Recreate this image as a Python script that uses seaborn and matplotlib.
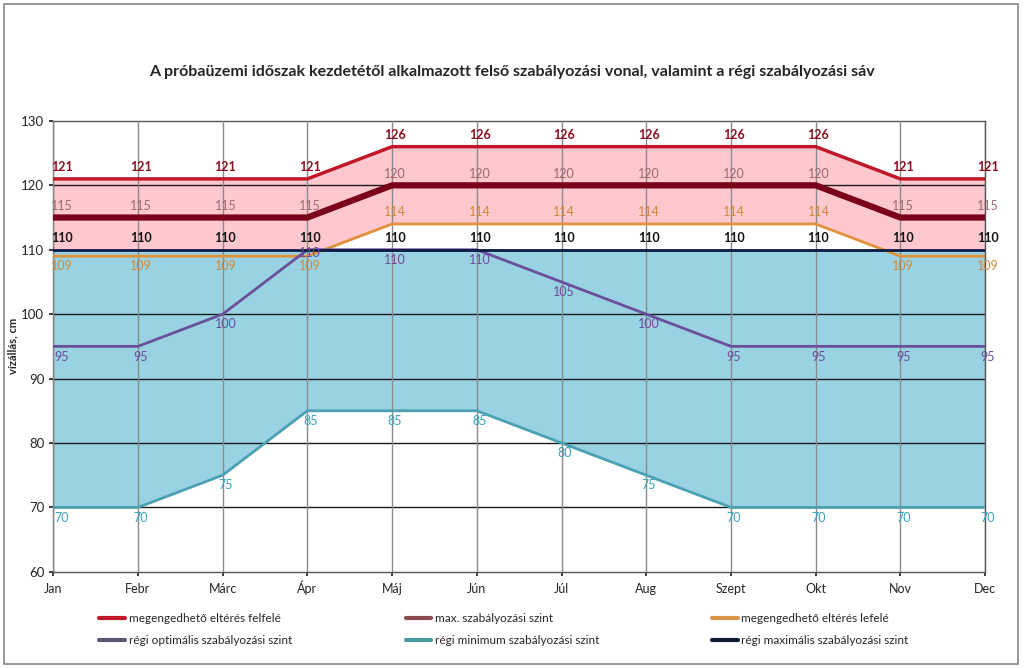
import matplotlib
matplotlib.use("Agg")
import matplotlib.pyplot as plt
import seaborn as sns
import numpy as np
import pandas as pd
from matplotlib.lines import Line2D

months = ["Jan", "Febr", "Márc", "Ápr", "Máj", "Jún", "Júl", "Aug", "Szept", "Okt", "Nov", "Dec"]
upper_dev = [121, 121, 121, 121, 126, 126, 126, 126, 126, 126, 121, 121]
max_level = [115, 115, 115, 115, 120, 120, 120, 120, 120, 120, 115, 115]
lower_dev = [109, 109, 109, 109, 114, 114, 114, 114, 114, 114, 109, 109]
old_opt = [95, 95, 100, 110, 110, 110, 105, 100, 95, 95, 95, 95]
old_min = [70, 70, 75, 85, 85, 85, 80, 75, 70, 70, 70, 70]
old_max = [110] * 12

names = ["megengedhető eltérés felfelé", "max. szabályozási szint", "megengedhető eltérés lefelé",
         "régi optimális szabályozási szint", "régi minimum szabályozási szint", "régi maximális szabályozási szint"]

sns.set_theme(style="white")
plt.rcParams['font.family'] = ['Lato', 'DejaVu Sans']

fig = plt.figure(figsize=(10.24, 6.68), dpi=100)
ax = fig.add_axes([0.052, 0.144, 0.910, 0.675])

x = np.arange(len(months))
ax.fill_between(x, upper_dev, lower_dev, color="#FFC8CE", lw=0, zorder=1)
ax.fill_between(x, old_max, old_min, color="#99D3E3", lw=0, zorder=2)

for yv in [70, 80, 90, 100, 110, 120]:
    ax.axhline(yv, color="#1a1a1a", lw=1.0, zorder=3)
for xv in x:
    ax.axvline(xv, color="#8a8a8a", lw=1.0, zorder=3)

# (values, line colour, width, label colour, label placement)
series = [
    (upper_dev, "#C0182A", 2.5, "#8B1020", "above"),
    (max_level, "#7A0019", 4.5, "#9A6A72", "above"),
    (lower_dev, "#E0913A", 2.0, "#D0893A", "mixed"),
    (old_opt, "#6B4F9A", 2.0, "#6A4C9C", "below"),
    (old_min, "#4BA0B2", 2.0, "#35A5C0", "below"),
    (old_max, "#0B1A45", 2.0, "#111111", "above"),
]
handle_colors = ["#C0182A", "#8B4A50", "#D8944A", "#5E5878", "#4A9AA6", "#0B1A35"]

for k, (vals, col, lw, lcol, pos) in enumerate(series):
    df = pd.DataFrame({"x": x, "y": vals})
    sns.lineplot(data=df, x="x", y="y", color=col, lw=lw, ax=ax, zorder=5, legend=False)
    for xi, yi in zip(x, vals):
        above = pos == "above" or (pos == "mixed" and yi > 110)
        dx = 6 if xi == 0 else 2
        if k == 3 and xi == 3:
            # purple label at Ápr sits on the line, between the 110 and 109 labels
            ax.annotate(str(yi), (xi, yi), xytext=(dx, -2), textcoords="offset points",
                        ha="center", va="center", color=lcol, fontsize=9, zorder=6)
            continue
        ax.annotate(str(yi), (xi, yi), xytext=(dx, 4 if above else -3), textcoords="offset points",
                    ha="center", va="bottom" if above else "top", color=lcol, fontsize=9,
                    fontweight="bold" if lcol in ("#8B1020", "#111111") else "normal", zorder=6)

ax.set_xlim(0, 11)
ax.set_ylim(60, 130)
ax.set_yticks(range(60, 131, 10))
ax.set_xticks(x)
ax.set_xticklabels(months, fontsize=9)
ax.tick_params(axis="y", labelsize=9.5, length=3, left=True)
ax.tick_params(axis="x", length=3, bottom=True, pad=12)
for lbl in ax.get_xticklabels():
    lbl.set_va("baseline")
ax.set_xlabel("")
ax.set_ylabel("vízállás, cm", fontsize=8, fontweight="bold", labelpad=2)
for s in ax.spines.values():
    s.set_color("#555555")
    s.set_linewidth(1.0)

fig.text(0.5, 0.892, "A próbaüzemi időszak kezdetétől alkalmazott felső szabályozási vonal, valamint a régi szabályozási sáv",
         ha="center", va="center", fontsize=11.5, fontweight="bold")

col_x = [0.097, 0.396, 0.695]
for c in range(3):
    idx = [c, c + 3]
    hs = [Line2D([0], [0], color=handle_colors[i], lw=3) for i in idx]
    fig.legend(hs, [names[i] for i in idx], loc="center left", bbox_to_anchor=(col_x[c], 0.058),
               ncol=1, frameon=False, fontsize=8.5, handlelength=2.2, handletextpad=0.3,
               labelspacing=0.95, borderaxespad=0, borderpad=0)

border = plt.Rectangle((0.004, 0.006), 0.99, 0.988, transform=fig.transFigure, fill=False,
                       edgecolor="#888888", lw=1.2)
fig.patches.append(border)

fig.savefig("out.png", dpi=100)
